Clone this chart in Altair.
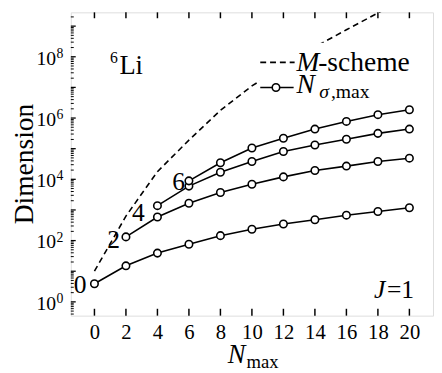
import altair as alt
import pandas as pd

# ---- data ----
nmax = [0, 2, 4, 6, 8, 10, 12, 14, 16, 18, 20]
m_scheme = [10, 630, 17800, 190000, 1.78e6, 1.12e7, 4.8e7, 2.1e8, 7.6e8, 2.7e9, 8.9e9]

s0_x = [0, 2, 4, 6, 8, 10, 12, 14, 16, 18, 20]
s0_y = [3.9, 15, 39, 76, 145, 234, 347, 479, 676, 891, 1175]
s2_x = [2, 4, 6, 8, 10, 12, 14, 16, 18, 20]
s2_y = [132, 590, 1660, 3700, 6900, 12000, 19500, 27000, 38000, 49000]
s4_x = [4, 6, 8, 10, 12, 14, 16, 18, 20]
s4_y = [1380, 6000, 17000, 38000, 81000, 132000, 204000, 316000, 436000]
s6_x = [6, 8, 10, 12, 14, 16, 18, 20]
s6_y = [8900, 34700, 105000, 219000, 436000, 776000, 1.29e6, 1.86e6]

x_ticks = [0, 2, 4, 6, 8, 10, 12, 14, 16, 18, 20]
y_label_exps = [0, 2, 4, 6, 8]
decades = [-1, 0, 1, 2, 3, 4, 5, 6, 7, 8, 9]

W, H = 369, 309
FONT = "'Liberation Serif', 'Times New Roman', Times, serif"
YMIN, YMAX = 10 ** -0.45, 10 ** 9.45

mdf = pd.DataFrame({"x": nmax, "y": m_scheme})
sdf = pd.concat([
    pd.DataFrame({"x": s0_x, "y": s0_y, "s": "0"}),
    pd.DataFrame({"x": s2_x, "y": s2_y, "s": "2"}),
    pd.DataFrame({"x": s4_x, "y": s4_y, "s": "4"}),
    pd.DataFrame({"x": s6_x, "y": s6_y, "s": "6"}),
])

xscale = alt.Scale(domain=[-1.5, 21.5], nice=False, zero=False)
yscale = alt.Scale(type="log", domain=[YMIN, YMAX], nice=False)
xaxis = alt.Axis(values=x_ticks, ticks=False, domain=False, grid=False, title=None,
                 labelFont=FONT, labelFontSize=21, labelPadding=6, labelColor="black",
                 labelFlush=False)
xenc = alt.X("x:Q", scale=xscale, axis=xaxis)
yenc = alt.Y("y:Q", scale=yscale, axis=None)

mline = alt.Chart(mdf).mark_line(color="black", strokeWidth=1.6, strokeDash=[6, 4], clip=True).encode(x=xenc, y=yenc)
slines = alt.Chart(sdf).mark_line(color="black", strokeWidth=1.6).encode(x=xenc, y=yenc, detail="s:N")
spts = alt.Chart(sdf).mark_point(shape="circle", filled=True, fill="white", stroke="black",
                                 strokeWidth=1.6, size=58, opacity=1).encode(x=xenc, y=yenc)

# point labels (first point of each series)
def start_label(xv, yv, txt, dx, dy):
    return alt.Chart(pd.DataFrame({"x": [xv], "y": [yv], "t": [txt]})).mark_text(
        font=FONT, fontSize=26, align="right", baseline="middle", dx=dx, dy=dy, color="black"
    ).encode(x=xenc, y=yenc, text="t:N")

lab0 = start_label(s0_x[0], s0_y[0], "0", -8, 1)
lab2 = start_label(s2_x[0], s2_y[0], "2", -6, 3)
lab4 = start_label(s4_x[0], s4_y[0], "4", -13, 8)
lab6 = start_label(s6_x[0], s6_y[0], "6", -4, 1)

# ticks (inward)
tdf = pd.DataFrame({"x": x_ticks})
xt_bot = alt.Chart(tdf).mark_rule(color="black", strokeWidth=1.5).encode(x=xenc, y=alt.value(H), y2=alt.value(H - 7))
xt_top = alt.Chart(tdf).mark_rule(color="black", strokeWidth=1.5).encode(x=xenc, y=alt.value(0), y2=alt.value(6))
major = [10.0 ** k for k in decades if YMIN <= 10.0 ** k <= YMAX]
minor = [m * 10.0 ** k for k in decades for m in range(2, 10) if YMIN <= m * 10.0 ** k <= YMAX]
yt_major = alt.Chart(pd.DataFrame({"y": major})).mark_rule(color="black", strokeWidth=1.3).encode(
    y=yenc, x=alt.value(0), x2=alt.value(5))
yt_minor = alt.Chart(pd.DataFrame({"y": minor})).mark_rule(color="black", strokeWidth=1).encode(
    y=yenc, x=alt.value(0), x2=alt.value(3))

# y tick labels 10^k
ydf = pd.DataFrame({"y": [10.0 ** k for k in y_label_exps], "b": "10", "e": [str(k) for k in y_label_exps]})
ylab_base = alt.Chart(ydf).mark_text(font=FONT, fontSize=20, align="right", baseline="alphabetic",
                                     dy=8, color="black").encode(y=yenc, x=alt.value(-15), text="b:N")
ylab_exp = alt.Chart(ydf).mark_text(font=FONT, fontSize=14, align="left", baseline="alphabetic",
                                    dy=1, color="black").encode(y=yenc, x=alt.value(-14.5), text="e:N")

def txt(s, x, y, size, style="normal", align="left", baseline="alphabetic", angle=0):
    kw = dict(text=s, font=FONT, fontSize=size, fontStyle=style, align=align,
              baseline=baseline, color="black")
    if angle:
        kw["angle"] = angle
    return alt.Chart().mark_text(**kw).encode(x=alt.value(x), y=alt.value(y))

ytitle = txt("Dimension", -39, H / 2, 28, align="center", angle=270)
xtitle_n = txt("N", 160, 357, 27, style="italic")
xtitle_s = txt("max", 179, 362, 19)
li6 = txt("6", 40, 52, 16)
li = txt("Li", 49.5, 62.5, 27)
j_lab = txt("J", 309, 291, 26, style="italic")
j_eq = txt("=1", 322, 291, 26)

# legend
leg_bg = alt.Chart().mark_rect(color="white").encode(
    x=alt.value(192), x2=alt.value(364), y=alt.value(31), y2=alt.value(90))
leg_dash = alt.Chart().mark_rule(color="black", strokeWidth=1.6, strokeDash=[6, 4]).encode(
    x=alt.value(193), x2=alt.value(228), y=alt.value(51))
leg_m = txt("M", 230, 59.5, 28, style="italic")
leg_ms = txt("-scheme", 252, 59.5, 28)
leg_line = alt.Chart().mark_rule(color="black", strokeWidth=1.6).encode(
    x=alt.value(193), x2=alt.value(227), y=alt.value(76.5))
leg_pt = alt.Chart().mark_point(shape="circle", filled=True, fill="white", stroke="black",
                                strokeWidth=1.6, size=58, opacity=1).encode(x=alt.value(209), y=alt.value(76.5))
leg_n = txt("N", 230, 82.5, 28, style="italic")
leg_sig = txt("σ", 253, 87, 20, style="italic")
leg_max = txt(",max", 265, 87, 20)

chart = alt.layer(
    mline, slines, spts, lab0, lab2, lab4, lab6,
    xt_bot, xt_top, yt_major, yt_minor, ylab_base, ylab_exp,
    ytitle, xtitle_n, xtitle_s, li6, li, j_lab, j_eq,
    leg_bg, leg_dash, leg_m, leg_ms, leg_line, leg_pt, leg_n, leg_sig, leg_max,
).properties(
    width=W, height=H,
    autosize=alt.AutoSizeParams(type="none"),
    padding={"left": 64, "right": 1, "top": 1, "bottom": 55},
).configure_view(stroke="black", strokeWidth=1.8, fill="white").configure(background="white")

chart.save("out.html", embed_options={"renderer": "svg", "actions": False})
